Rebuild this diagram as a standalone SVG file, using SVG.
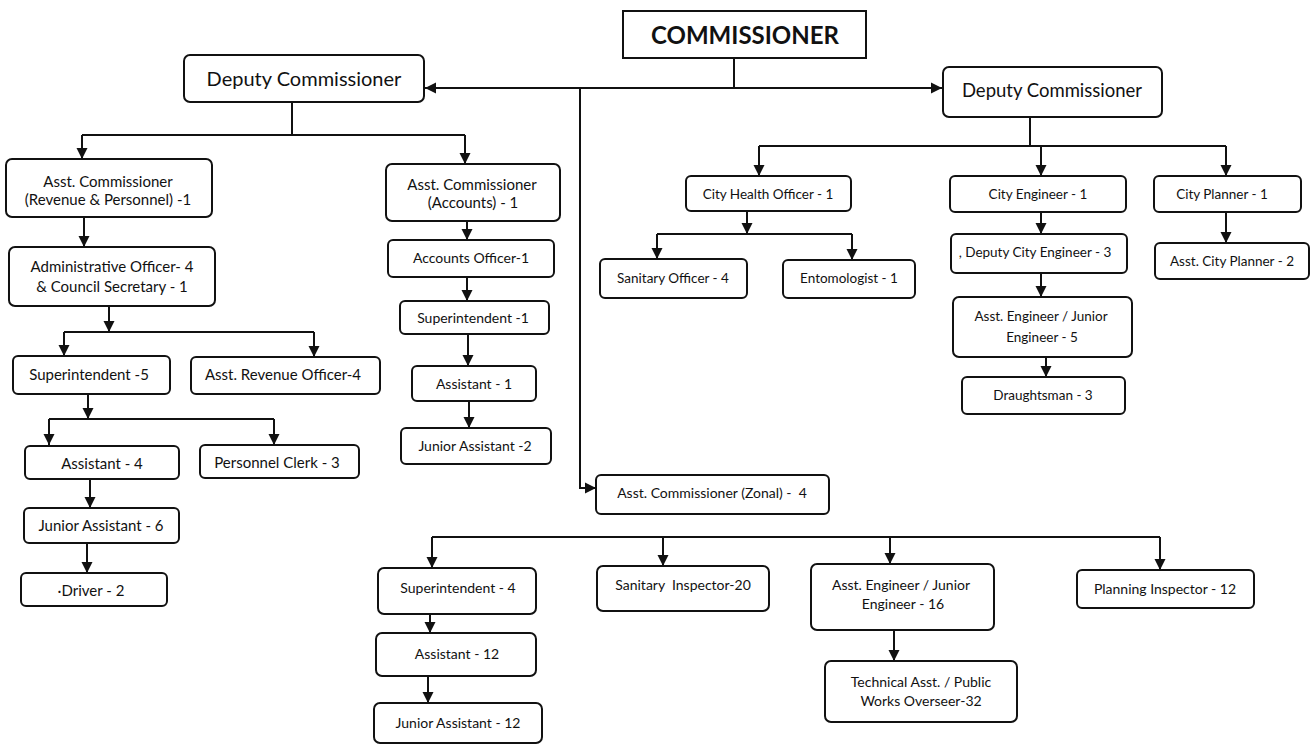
<svg xmlns="http://www.w3.org/2000/svg" width="1314" height="745" viewBox="0 0 1314 745">
<defs>
<marker id="ah" viewBox="0 0 10 10" refX="10" refY="5" markerWidth="11" markerHeight="13" markerUnits="userSpaceOnUse" orient="auto"><path d="M0,0 L10,5 L0,10 z" fill="#111"/></marker>
<style>
.b{fill:#fff;stroke:#111;stroke-width:2}
.t{font-family:Lato,"Open Sans","Liberation Sans",sans-serif;fill:#111;text-anchor:middle}
.l{font-size:15px}
.a{font-size:14px}
.r{font-size:13.5px}
.c{fill:none;stroke:#111;stroke-width:2}
.k{marker-end:url(#ah)}
</style>
</defs>
<rect width="1314" height="745" fill="#fff"/>
<g id="connectors">
<path class="c" d="M734,59 V88"/>
<path class="c k" d="M734,88 H425"/>
<path class="c k" d="M580,88 H942"/>
<path class="c k" d="M580,88 V488 H596"/>
<path class="c" d="M292,102 V135 M82,135 H465"/>
<path class="c k" d="M82,135 V159"/>
<path class="c k" d="M465,135 V164"/>
<path class="c k" d="M84,217 V247"/>
<path class="c k" d="M467,221 V240"/>
<path class="c k" d="M109,306 V332"/>
<path class="c" d="M64,332 H314"/>
<path class="c k" d="M64,332 V356"/>
<path class="c k" d="M314,332 V357"/>
<path class="c k" d="M88,394 V419"/>
<path class="c" d="M49,419 H274"/>
<path class="c k" d="M49,419 V445"/>
<path class="c k" d="M274,419 V445"/>
<path class="c k" d="M90,479 V508"/>
<path class="c k" d="M87,543 V573"/>
<path class="c k" d="M467,277 V301"/>
<path class="c k" d="M468,334 V366"/>
<path class="c k" d="M469,401 V428"/>
<path class="c" d="M1030,117 V146 M759,146 H1226"/>
<path class="c k" d="M759,146 V176"/>
<path class="c k" d="M1041,146 V176"/>
<path class="c k" d="M1226,146 V176"/>
<path class="c k" d="M747,211 V234"/>
<path class="c" d="M657,234 H852"/>
<path class="c k" d="M657,234 V259"/>
<path class="c k" d="M852,234 V260"/>
<path class="c k" d="M1041,212 V234"/>
<path class="c k" d="M1041,273 V297"/>
<path class="c k" d="M1046,357 V377"/>
<path class="c k" d="M1226,212 V243"/>
<path class="c" d="M432,537 H1160"/>
<path class="c k" d="M432,537 V568"/>
<path class="c k" d="M663,537 V566"/>
<path class="c k" d="M890,537 V564"/>
<path class="c k" d="M1160,537 V570"/>
<path class="c k" d="M430,614 V633"/>
<path class="c k" d="M428,676 V703"/>
<path class="c k" d="M894,630 V661"/>
</g>
<g id="commissioner"><rect class="b" x="623" y="11" width="243" height="47"/><text class="t" x="745" y="44" font-size="24" font-weight="bold">COMMISSIONER</text></g>
<g id="dc-left"><rect class="b" x="184" y="55" width="240" height="47" rx="6"/><text class="t" x="304" y="86" font-size="20">Deputy Commissioner</text></g>
<g id="dc-right"><rect class="b" x="943" y="67" width="219" height="50" rx="6"/><text class="t" x="1052" y="97" font-size="18.5">Deputy Commissioner</text></g>
<g id="ac-rev"><rect class="b" x="6" y="159" width="206" height="58" rx="6"/><text class="t l" x="108" y="187">Asst. Commissioner</text><text class="t l" x="108" y="205">(Revenue &amp; Personnel) -1</text></g>
<g id="ac-acc"><rect class="b" x="386" y="164" width="174" height="57" rx="6"/><text class="t l" x="472" y="190">Asst. Commissioner</text><text class="t l" x="473" y="208">(Accounts) - 1</text></g>
<g id="admin"><rect class="b" x="9" y="247" width="206" height="59" rx="6"/><text class="t l" x="112" y="272">Administrative Officer- 4</text><text class="t l" x="112" y="292">&amp; Council Secretary - 1</text></g>
<g id="sup5"><rect class="b" x="13" y="356" width="157" height="38" rx="5"/><text class="t l" x="89" y="380">Superintendent -5</text></g>
<g id="aro"><rect class="b" x="191" y="357" width="189" height="37" rx="5"/><text class="t l" x="283" y="380">Asst. Revenue Officer-4</text></g>
<g id="asst4"><rect class="b" x="25" y="446" width="154" height="33" rx="5"/><text class="t l" x="102" y="469">Assistant - 4</text></g>
<g id="pclerk"><rect class="b" x="200" y="445" width="159" height="33" rx="5"/><text class="t l" x="277" y="468">Personnel Clerk - 3</text></g>
<g id="ja6"><rect class="b" x="24" y="508" width="155" height="35" rx="5"/><text class="t l" x="101" y="531">Junior Assistant - 6</text></g>
<g id="driver"><rect class="b" x="21" y="573" width="146" height="33" rx="5"/><text class="t l" x="91" y="596">·Driver - 2</text></g>
<g id="ao1"><rect class="b" x="388" y="240" width="166" height="37" rx="5"/><text class="t a" x="471" y="263">Accounts Officer-1</text></g>
<g id="sup1"><rect class="b" x="400" y="301" width="149" height="33" rx="5"/><text class="t a" x="473" y="323">Superintendent -1</text></g>
<g id="asst1"><rect class="b" x="412" y="366" width="124" height="35" rx="5"/><text class="t a" x="474" y="389">Assistant - 1</text></g>
<g id="ja2"><rect class="b" x="401" y="428" width="150" height="36" rx="5"/><text class="t a" x="475" y="451">Junior Assistant -2</text></g>
<g id="cho"><rect class="b" x="686" y="176" width="165" height="35" rx="5"/><text class="t r" x="768" y="199">City Health Officer - 1</text></g>
<g id="ce"><rect class="b" x="950" y="176" width="176" height="36" rx="5"/><text class="t r" x="1038" y="199">City Engineer - 1</text></g>
<g id="cp"><rect class="b" x="1154" y="176" width="147" height="36" rx="5"/><text class="t r" x="1222" y="199">City Planner - 1</text></g>
<g id="so4"><rect class="b" x="600" y="259" width="147" height="39" rx="5"/><text class="t r" x="673" y="283">Sanitary Officer - 4</text></g>
<g id="ento"><rect class="b" x="783" y="260" width="132" height="38" rx="5"/><text class="t r" x="849" y="283">Entomologist - 1</text></g>
<g id="dce3"><rect class="b" x="951" y="234" width="176" height="39" rx="5"/><text class="t r" x="1035" y="257">, Deputy City Engineer - 3</text></g>
<g id="ae5"><rect class="b" x="953" y="297" width="179" height="60" rx="6"/><text class="t r" x="1041" y="321">Asst. Engineer / Junior</text><text class="t r" x="1042" y="342">Engineer - 5</text></g>
<g id="draught"><rect class="b" x="962" y="377" width="163" height="37" rx="5"/><text class="t r" x="1043" y="400">Draughtsman - 3</text></g>
<g id="acp2"><rect class="b" x="1155" y="243" width="154" height="36" rx="5"/><text class="t r" x="1232" y="266">Asst. City Planner - 2</text></g>
<g id="zonal"><rect class="b" x="596" y="475" width="233" height="39" rx="5"/><text class="t a" x="712" y="498" xml:space="preserve">Asst. Commissioner (Zonal) -  4</text></g>
<g id="sup4"><rect class="b" x="378" y="568" width="158" height="46" rx="6"/><text class="t a" x="458" y="593">Superintendent - 4</text></g>
<g id="si20"><rect class="b" x="597" y="566" width="172" height="45" rx="6"/><text class="t a" x="683" y="590" xml:space="preserve">Sanitary  Inspector-20</text></g>
<g id="ae16"><rect class="b" x="811" y="564" width="183" height="66" rx="6"/><text class="t a" x="901" y="590">Asst. Engineer / Junior</text><text class="t a" x="903" y="609">Engineer - 16</text></g>
<g id="pi12"><rect class="b" x="1077" y="570" width="177" height="38" rx="5"/><text class="t a" x="1165" y="594">Planning Inspector - 12</text></g>
<g id="asst12"><rect class="b" x="376" y="633" width="160" height="43" rx="6"/><text class="t a" x="457" y="659">Assistant - 12</text></g>
<g id="ja12"><rect class="b" x="374" y="703" width="168" height="40" rx="6"/><text class="t a" x="458" y="728">Junior Assistant - 12</text></g>
<g id="ta32"><rect class="b" x="825" y="661" width="192" height="61" rx="6"/><text class="t a" x="921" y="687">Technical Asst. / Public</text><text class="t a" x="921" y="706">Works Overseer-32</text></g>
</svg>
